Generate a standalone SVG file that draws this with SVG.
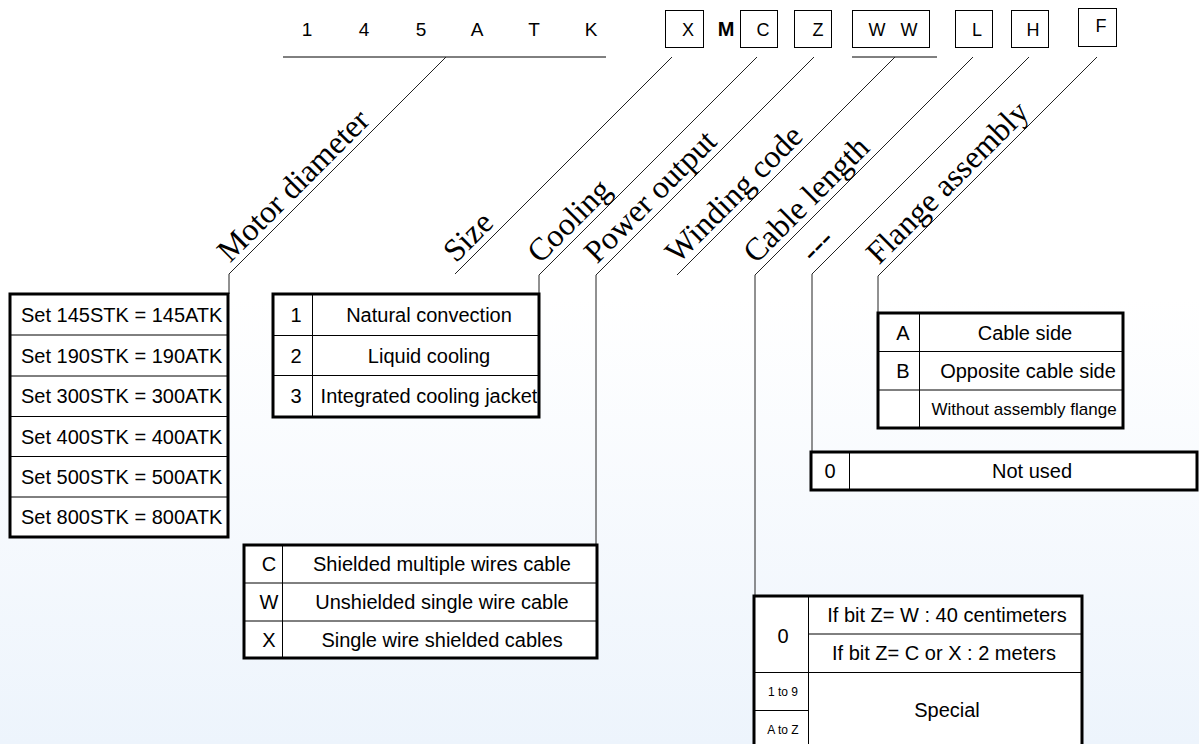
<svg xmlns="http://www.w3.org/2000/svg" width="1199" height="744" viewBox="0 0 1199 744">
<defs>
<linearGradient id="bg" x1="0" y1="0" x2="0" y2="1">
<stop offset="0" stop-color="#ffffff"/>
<stop offset="0.4" stop-color="#ffffff"/>
<stop offset="1" stop-color="#edf4fc"/>
</linearGradient>
</defs>
<style>
.s{font-family:"Liberation Sans",Arial,sans-serif;fill:#000}
.t20{font-size:20px}
.c{text-anchor:middle}
.top{font-size:19px}
.bx{font-size:18px}
.lab{font-family:"Liberation Serif","Times New Roman",serif;font-size:32px;fill:#000}
.conn{fill:none;stroke:#222;stroke-width:1}
.box{fill:none;stroke:#000;stroke-width:1}
.tb{fill:none;stroke:#000;stroke-width:3}
.gl{stroke:#000;stroke-width:1}
</style>
<rect x="0" y="0" width="1199" height="744" fill="url(#bg)"/>

<g id="code">
<text class="s c top" x="307" y="36">1</text>
<text class="s c top" x="364" y="36">4</text>
<text class="s c top" x="421" y="36">5</text>
<text class="s c top" x="477" y="36">A</text>
<text class="s c top" x="534" y="36">T</text>
<text class="s c top" x="591" y="36">K</text>
<line class="gl" x1="283" y1="57" x2="606" y2="57"/>
<rect class="box" x="665.5" y="10.5" width="38" height="37"/>
<text class="s c bx" x="688" y="35.5">X</text>
<text class="s c" font-size="20" font-weight="bold" x="726" y="36">M</text>
<rect class="box" x="740.5" y="10.5" width="37" height="37"/>
<text class="s c bx" x="763" y="35.5">C</text>
<rect class="box" x="794.5" y="10.5" width="37" height="37"/>
<text class="s c bx" x="818" y="35.5">Z</text>
<rect class="box" x="852.5" y="10.5" width="77" height="37"/>
<text class="s c bx" x="877" y="35.5">W</text>
<text class="s c bx" x="909" y="35.5">W</text>
<line class="gl" x1="852" y1="57" x2="937" y2="57"/>
<rect class="box" x="955.5" y="10.5" width="37" height="37"/>
<text class="s c bx" x="977" y="35.5">L</text>
<rect class="box" x="1011.5" y="10.5" width="37" height="37"/>
<text class="s c bx" x="1033" y="35.5">H</text>
<rect class="box" x="1078.5" y="8.5" width="38" height="38"/>
<text class="s c bx" x="1101" y="32">F</text>
</g>

<g id="connectors">
<path class="conn" d="M446,57 L229,274 L229,294"/>
<path class="conn" d="M672,57 L455,274"/>
<path class="conn" d="M757,57 L539,275 L539,294"/>
<path class="conn" d="M814,57 L596,275 L596,545"/>
<path class="conn" d="M895,57 L677,275"/>
<path class="conn" d="M973,57 L755,275 L755,596"/>
<path class="conn" d="M1029,57 L812,274 L812,452"/>
<path class="conn" d="M1097,57 L878,276 L878,313"/>
</g>

<g id="labels">
<text class="lab" x="230" y="263.5" transform="rotate(-45 230 263.5)">Motor diameter</text>
<text class="lab" x="456" y="263.5" transform="rotate(-45 456 263.5)">Size</text>
<text class="lab" x="540" y="264.5" transform="rotate(-45 540 264.5)">Cooling</text>
<text class="lab" x="597" y="264.5" transform="rotate(-45 597 264.5)">Power output</text>
<text class="lab" x="678" y="264.5" transform="rotate(-45 678 264.5)">Winding code</text>
<text class="lab" x="756" y="264.5" transform="rotate(-45 756 264.5)">Cable length</text>
<text class="lab" x="813" y="263.5" transform="rotate(-45 813 263.5)">---</text>
<text class="lab" x="879" y="265.5" transform="rotate(-45 879 265.5)">Flange assembly</text>
</g>

<g id="table-diameter">
<rect x="10" y="294" width="218" height="243" fill="#fff"/>
<line class="gl" x1="10" y1="335" x2="228" y2="335"/>
<line class="gl" x1="10" y1="376" x2="228" y2="376"/>
<line class="gl" x1="10" y1="416.5" x2="228" y2="416.5"/>
<line class="gl" x1="10" y1="456.5" x2="228" y2="456.5"/>
<line class="gl" x1="10" y1="497" x2="228" y2="497"/>
<text class="s t20" x="21" y="321.5">Set 145STK = 145ATK</text>
<text class="s t20" x="21" y="362.5">Set 190STK = 190ATK</text>
<text class="s t20" x="21" y="403">Set 300STK = 300ATK</text>
<text class="s t20" x="21" y="443.5">Set 400STK = 400ATK</text>
<text class="s t20" x="21" y="484">Set 500STK = 500ATK</text>
<text class="s t20" x="21" y="524">Set 800STK = 800ATK</text>
<rect class="tb" x="10" y="294" width="218" height="243"/>
</g>

<g id="table-cooling">
<rect x="273" y="294" width="266" height="123" fill="#fff"/>
<line class="gl" x1="273" y1="335.5" x2="539" y2="335.5"/>
<line class="gl" x1="273" y1="375.5" x2="539" y2="375.5"/>
<line class="gl" x1="312.5" y1="294" x2="312.5" y2="417"/>
<text class="s t20 c" x="296" y="322">1</text>
<text class="s t20 c" x="296" y="362.5">2</text>
<text class="s t20 c" x="296" y="403">3</text>
<text class="s t20 c" x="429" y="322">Natural convection</text>
<text class="s t20 c" x="429" y="362.5">Liquid cooling</text>
<text class="s t20 c" x="429" y="403">Integrated cooling jacket</text>
<rect class="tb" x="273" y="294" width="266" height="123"/>
</g>

<g id="table-flange">
<rect x="878" y="313" width="245" height="115" fill="#fff"/>
<line class="gl" x1="878" y1="351.5" x2="1123" y2="351.5"/>
<line class="gl" x1="878" y1="390" x2="1123" y2="390"/>
<line class="gl" x1="919.5" y1="313" x2="919.5" y2="428"/>
<text class="s t20 c" x="903" y="339.5">A</text>
<text class="s t20 c" x="903" y="378">B</text>
<text class="s t20 c" x="1025" y="339.5">Cable side</text>
<text class="s t20 c" x="1028" y="378">Opposite cable side</text>
<text class="s c" font-size="17" x="1024" y="415">Without assembly flange</text>
<rect class="tb" x="878" y="313" width="245" height="115"/>
</g>

<g id="table-unused">
<rect x="811" y="452" width="386" height="38" fill="#fff"/>
<line class="gl" x1="849.5" y1="452" x2="849.5" y2="490"/>
<text class="s t20 c" x="830" y="478">0</text>
<text class="s t20 c" x="1032" y="478">Not used</text>
<rect class="tb" x="811" y="452" width="386" height="38"/>
</g>

<g id="table-power">
<rect x="244" y="545" width="353" height="113" fill="#fff"/>
<line class="gl" x1="244" y1="583" x2="597" y2="583"/>
<line class="gl" x1="244" y1="621" x2="597" y2="621"/>
<line class="gl" x1="282.5" y1="545" x2="282.5" y2="658"/>
<text class="s t20 c" x="269" y="571">C</text>
<text class="s t20 c" x="269" y="609">W</text>
<text class="s t20 c" x="269" y="646.5">X</text>
<text class="s t20 c" x="442" y="571">Shielded multiple wires cable</text>
<text class="s t20 c" x="442" y="609">Unshielded single wire cable</text>
<text class="s t20 c" x="442" y="646.5">Single wire shielded cables</text>
<rect class="tb" x="244" y="545" width="353" height="113"/>
</g>

<g id="table-cable">
<rect x="754" y="596" width="328" height="160" fill="#fff"/>
<line class="gl" x1="808" y1="634" x2="1082" y2="634"/>
<line class="gl" x1="754" y1="672.5" x2="1082" y2="672.5"/>
<line class="gl" x1="754" y1="710.5" x2="808" y2="710.5"/>
<line class="gl" x1="808.5" y1="596" x2="808.5" y2="756"/>
<text class="s t20 c" x="783" y="643">0</text>
<text class="s t20 c" x="947" y="622">If bit Z= W : 40 centimeters</text>
<text class="s t20 c" x="944" y="660">If bit Z= C or X : 2 meters</text>
<text class="s t20 c" x="947" y="717">Special</text>
<text class="s c" font-size="12" x="783" y="696">1 to 9</text>
<text class="s c" font-size="12" x="783" y="734">A to Z</text>
<rect class="tb" x="754" y="596" width="328" height="160"/>
</g>
</svg>
